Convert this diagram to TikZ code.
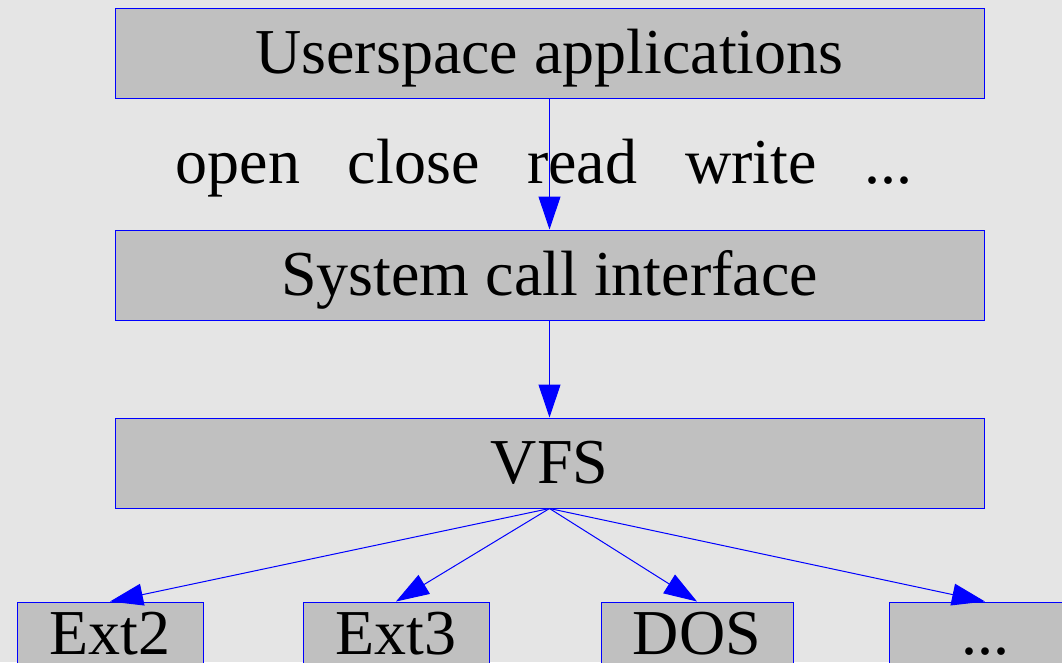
\documentclass[tikz,border=0pt]{standalone}
\usepackage{fontspec}
\setmainfont{Liberation Serif}
\usetikzlibrary{arrows.meta}
\definecolor{bggray}{RGB}{229,229,229}
\definecolor{boxgray}{RGB}{192,192,192}
\definecolor{edgeblue}{RGB}{0,0,255}
\begin{document}
\begin{tikzpicture}[x=1pt,y=1pt,
  layer/.style={draw=edgeblue, line width=1pt, fill=boxgray, inner sep=0pt,
    minimum height=90pt, text height=40pt, text depth=0pt,
    font=\fontsize{64}{70}\selectfont},
  fsbox/.style={layer, minimum height=64pt},
  flow/.style={draw=edgeblue, line width=1pt, -{Triangle[length=33pt,width=22pt]}},
  calltext/.style={anchor=base, inner sep=0pt, font=\fontsize{64}{70}\selectfont}]
% background
\fill[bggray] (0,0) rectangle (1062,-662);
\useasboundingbox (0,0) rectangle (1062,-662);
% kernel layers
\node[layer, minimum width=869pt] (user) at (549.5,-53) {Userspace applications};
\node[layer, minimum width=869pt] (sys) at (549.5,-275) {System call interface};
\node[layer, minimum width=869pt] (vfs) at (549.5,-463) {VFS};
% file systems
\node[fsbox, minimum width=186pt] (ext2) at (110,-634) {Ext2};
\node[fsbox, minimum width=186pt] (ext3) at (396,-634) {Ext3};
\node[fsbox, minimum width=192pt] (dos) at (697,-634) {DOS};
\node[fsbox, minimum width=192pt] (more) at (985,-634) {...};
% system calls
\node[calltext] (calls) at (544,-183)
  {open\hspace{47.75pt}close\hspace{47.75pt}read\hspace{47.75pt}write\hspace{47.75pt}...};
% connectors
\draw[flow] (user.south) -- (sys.north);
\draw[flow] (sys.south) -- (vfs.north);
\draw[flow] (vfs.south) -- (ext2.north);
\draw[flow] (vfs.south) -- (ext3.north);
\draw[flow] (vfs.south) -- (dos.north);
\draw[flow] (vfs.south) -- (more.north);
\end{tikzpicture}
\end{document}
